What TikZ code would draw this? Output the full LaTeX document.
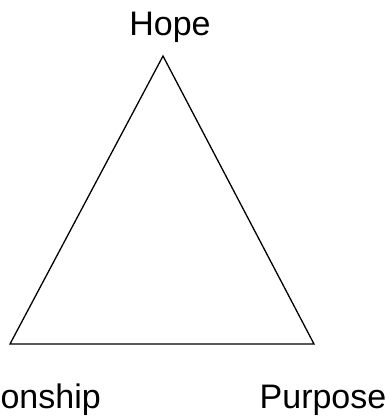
\documentclass[tikz,border=0pt]{standalone}
\usepackage{fontspec}
\setmainfont{Liberation Sans}
\tikzset{
  lbl/.style={inner sep=0pt, font=\fontsize{34}{40}\selectfont},
  edge/.style={draw=black, line width=1.3pt, line join=miter}
}
\begin{document}
\begin{tikzpicture}[x=1pt,y=-1pt]
\clip (0,0) rectangle (389,417);
\fill[white] (0,0) rectangle (389,417);
\coordinate (top) at (163,56);
\coordinate (bl) at (10,344);
\coordinate (br) at (314,344);
\draw[edge] (top) -- (bl) -- (br) -- cycle;
\node[lbl, anchor=base] (hope) at (170,36) {Hope};
\node[lbl, anchor=base east] (rel) at (101,408) {Relationship};
\node[lbl, anchor=base] (purp) at (323,408) {Purpose};
\end{tikzpicture}
\end{document}
